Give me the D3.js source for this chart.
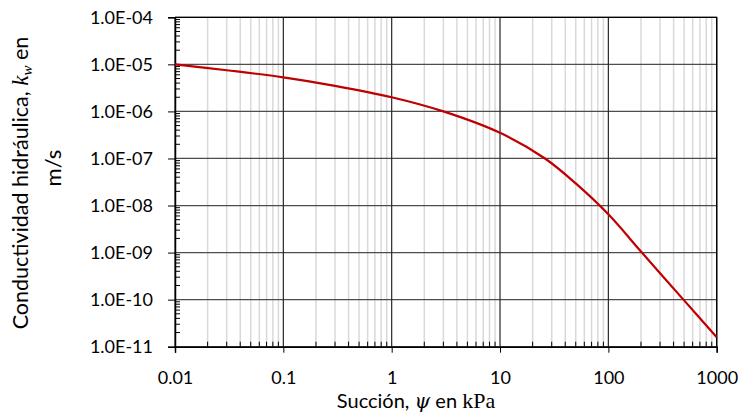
<!DOCTYPE html>
<html>
<head>
  <meta charset="UTF-8">
  <title>Conductividad hidráulica</title>
  <script src="https://d3js.org/d3.v7.min.js"></script>
  <style>
    body { margin: 0; background: #fff; }
    text { font-family: Lato, "Open Sans", sans-serif; fill: #000; }
  </style>
</head>
<body>
  <svg width="742" height="417"></svg>

  <script>
    // suction (kPa) and hydraulic conductivity (m/s)
    const suction = [0.01, 0.03, 0.1, 0.3, 1, 3, 10, 26, 50, 100, 204, 493, 1000];
    const conductivity = [1.0e-5, 7.5e-6, 5.3e-6, 3.5e-6, 2.0e-6, 1.0e-6, 3.5e-7,
      1.0e-7, 2.95e-8, 6.5e-9, 1.0e-9, 1.0e-10, 1.58e-11];

    const xTicks = [0.01, 0.1, 1, 10, 100, 1000];
    const xLabels = ["0.01", "0.1", "1", "10", "100", "1000"];
    const yTicks = [1e-11, 1e-10, 1e-9, 1e-8, 1e-7, 1e-6, 1e-5, 1e-4];
    const yLabels = ["1.0E-11", "1.0E-10", "1.0E-09", "1.0E-08", "1.0E-07", "1.0E-06", "1.0E-05", "1.0E-04"];

    const pLeft = 175, pRight = 716.7, pTop = 17.3, pBottom = 346.7;

    const svg = d3.select("svg");

    const x = d3.scaleLog().domain([0.01, 1000]).range([pLeft, pRight]);
    const y = d3.scaleLog().domain([1e-11, 1e-4]).range([pBottom, pTop]);

    // minor values (2..9 per decade)
    const minor = (lo, hi) => {
      const out = [];
      for (let e = lo; e < hi; e++)
        for (let m = 2; m <= 9; m++) out.push(m * Math.pow(10, e));
      return out;
    };
    const xMinor = minor(-2, 3);
    const yMinor = minor(-11, -4);

    // vertical minor gridlines
    svg.append("g")
      .attr("stroke", "#d9d9d9")
      .attr("stroke-width", 1.5)
      .selectAll("line")
      .data(xMinor)
      .join("line")
      .attr("x1", d => x(d)).attr("x2", d => x(d))
      .attr("y1", pTop).attr("y2", pBottom);

    // horizontal major gridlines
    svg.append("g")
      .attr("stroke", "#4d4d4d")
      .attr("stroke-width", 1.2)
      .selectAll("line")
      .data(yTicks)
      .join("line")
      .attr("x1", pLeft).attr("x2", pRight)
      .attr("y1", d => y(d)).attr("y2", d => y(d));

    // vertical major gridlines
    svg.append("g")
      .attr("stroke", "#262626")
      .attr("stroke-width", 1.2)
      .selectAll("line")
      .data(xTicks)
      .join("line")
      .attr("x1", d => x(d)).attr("x2", d => x(d))
      .attr("y1", pTop).attr("y2", pBottom);

    // frame top and right
    svg.append("path")
      .attr("d", `M${pLeft},${pTop}H${pRight}V${pBottom}`)
      .attr("fill", "none")
      .attr("stroke", "#000")
      .attr("stroke-width", 1.3);

    // minor ticks (inside)
    svg.append("g")
      .attr("stroke", "#000")
      .selectAll("line")
      .data(xMinor)
      .join("line")
      .attr("x1", d => x(d)).attr("x2", d => x(d))
      .attr("y1", pBottom).attr("y2", pBottom - 5);

    svg.append("g")
      .attr("stroke", "#000")
      .selectAll("line")
      .data(yMinor)
      .join("line")
      .attr("x1", pLeft).attr("x2", pLeft + 5)
      .attr("y1", d => y(d)).attr("y2", d => y(d));

    // axes with outward major ticks
    const xAxis = svg.append("g")
      .attr("transform", `translate(0,${pBottom})`)
      .call(d3.axisBottom(x).tickValues(xTicks).tickSize(6).tickFormat((d, i) => xLabels[i]));
    xAxis.select(".domain").attr("stroke-width", 1.5);
    xAxis.selectAll("text").attr("font-size", 18).attr("font-family", "Lato")
      .attr("y", 37.5).attr("dy", 0);

    const yAxis = svg.append("g")
      .attr("transform", `translate(${pLeft},0)`)
      .call(d3.axisLeft(y).tickValues(yTicks).tickSize(7).tickFormat((d, i) => yLabels[i]));
    yAxis.select(".domain").attr("stroke-width", 1.5);
    yAxis.selectAll("text").attr("font-size", 18).attr("font-family", "Lato").attr("x", -22);

    // curve
    const pts = suction.map((s, i) => [s, conductivity[i]]);
    svg.append("path")
      .datum(pts)
      .attr("fill", "none")
      .attr("stroke", "#c00000")
      .attr("stroke-width", 2.2)
      .attr("d", d3.line().x(d => x(d[0])).y(d => y(d[1])).curve(d3.curveCatmullRom.alpha(0.5)));

    // x title
    const xt = svg.append("text")
      .attr("x", 416).attr("y", 408)
      .attr("text-anchor", "middle")
      .attr("font-size", 20);
    xt.append("tspan").text("Succión, ");
    xt.append("tspan").attr("font-family", "DejaVu Serif").attr("font-style", "italic").text("ψ");
    xt.append("tspan").text(" en ");
    xt.append("tspan").attr("font-family", "Liberation Serif").attr("font-size", 22).text("kPa");

    // y title
    const l1 = svg.append("text")
      .attr("transform", "translate(28,183) rotate(-90)")
      .attr("text-anchor", "middle").attr("font-size", 21.5);
    l1.append("tspan").text("Conductividad hidráulica, ");
    l1.append("tspan").attr("font-family", "Liberation Serif").attr("font-style", "italic").attr("font-size", 23).text("k");
    l1.append("tspan").attr("font-family", "Liberation Serif").attr("font-style", "italic").attr("font-size", 15).attr("dy", 4).text("w");
    l1.append("tspan").attr("dy", -4).text(" en");
    svg.append("text")
      .attr("transform", "translate(61,168) rotate(-90)")
      .attr("text-anchor", "middle")
      .attr("font-family", "Liberation Serif").attr("font-size", 22).text("m/s");
  </script>
</body>
</html>
